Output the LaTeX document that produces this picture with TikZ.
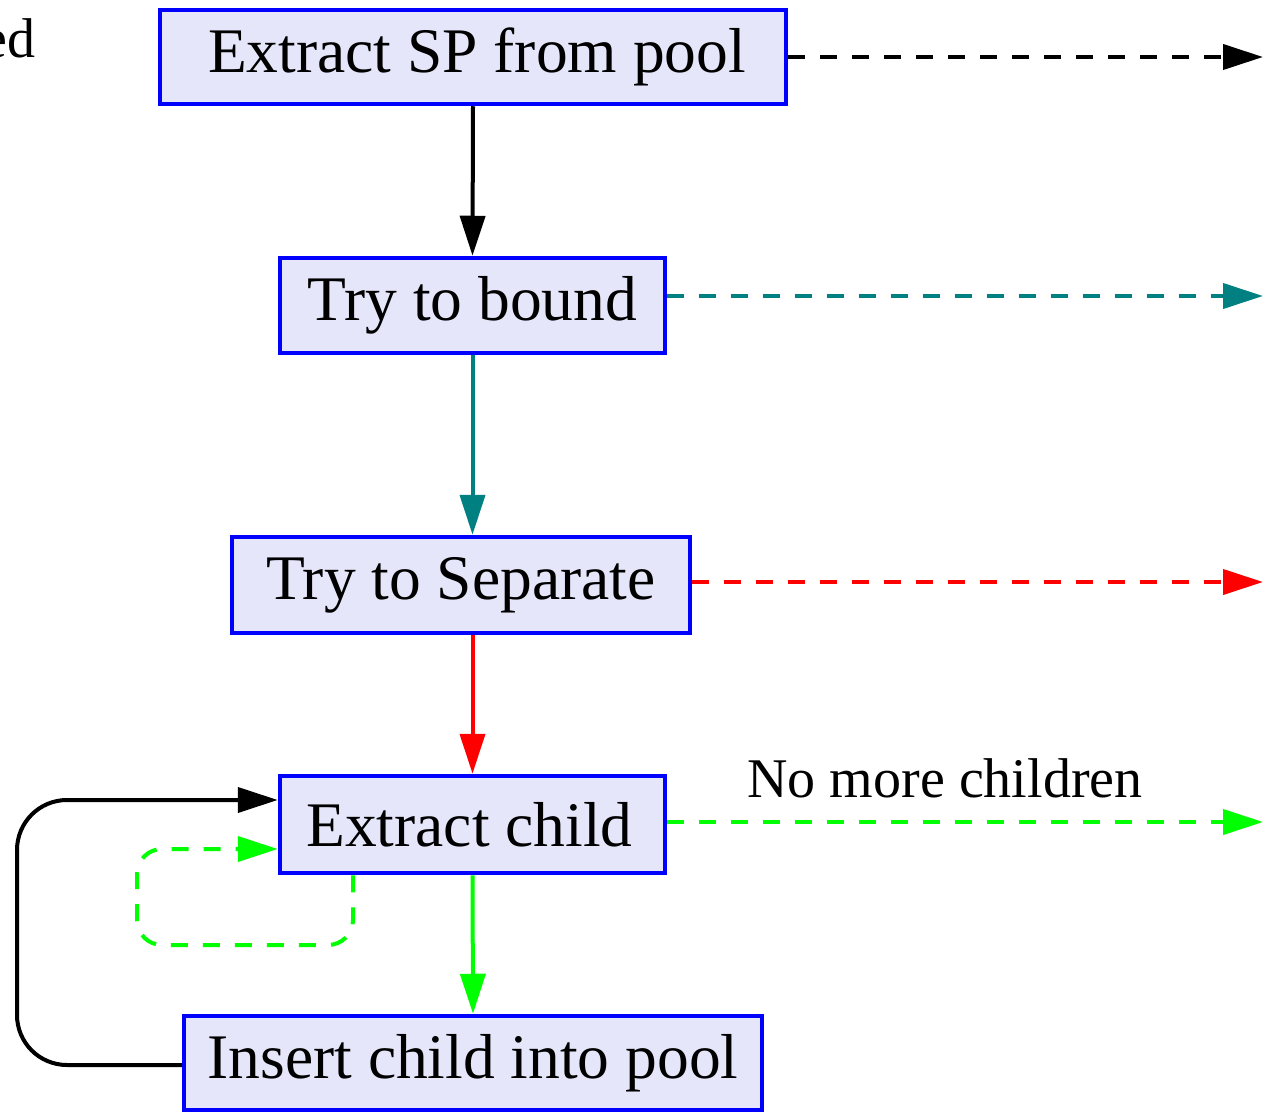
\documentclass[tikz,border=0pt]{standalone}
\usepackage{fontspec}
\setmainfont{Liberation Serif}
\usetikzlibrary{arrows.meta,calc}
\definecolor{boxfill}{RGB}{230,230,250}
\definecolor{tealc}{RGB}{0,128,128}
\definecolor{greenc}{RGB}{0,255,0}
\tikzset{
  stepbox/.style={draw=blue, fill=boxfill, line width=4.5pt, inner sep=0pt,
    font=\fontsize{63.5}{70}\selectfont},
  conn/.style={line width=4pt, -{Triangle[length=40pt,width=25pt]}},
  dsh/.style={conn, dash pattern=on 17pt off 15pt},
  lbl/.style={font=\fontsize{56}{62}\selectfont, inner sep=0pt}
}
\begin{document}
\begin{tikzpicture}[x=1pt,y=-1pt]
\useasboundingbox (0,0) rectangle (1264,1113);
\node[stepbox, minimum width=626pt, minimum height=94pt] (b1) at (473,57) {\hspace*{8pt}Extract SP from pool};
\node[stepbox, minimum width=385pt, minimum height=95pt] (b2) at (472.5,305.5) {Try to bound};
\node[stepbox, minimum width=458pt, minimum height=96pt] (b3) at (461,585) {Try to Separate};
\node[stepbox, minimum width=385pt, minimum height=97pt] (b4) at (472.5,824.5) {Extract child\hspace*{6pt}};
\node[stepbox, minimum width=578pt, minimum height=94pt] (b5) at (473,1063) {Insert child into pool};

\node[lbl, anchor=base east] (ed) at (36,58) {ed};
\node[lbl] (nmc) at (945,778) {No more children};

\coordinate (e1) at (1263,57);
\coordinate (e2) at (1263,296);
\coordinate (e3) at (1263,582);
\coordinate (e4) at (1263,822);

\draw[conn, black] (b1.south) -- (b2.north);
\draw[conn, tealc] (b2.south) -- (b2.south |- b3.north);
\draw[conn, red] (b2.south |- b3.south) -- (b4.north);
\draw[conn, greenc] (b4.south) -- (b5.north);

\draw[dsh, black] (b1.east |- e1) -- (e1);
\draw[dsh, tealc] (b2.east |- e2) -- (e2);
\draw[dsh, red] (b3.east |- e3) -- (e3);
\draw[dsh, greenc] (b4.east |- e4) -- (e4);

\draw[conn, black, rounded corners=50pt] (b5.west |- 0,1065) -- (17,1065) -- (17,800) -- (b4.west |- 0,800);
\draw[dsh, greenc, rounded corners=25pt] ($(b4.south)+(-119.5,0)$) -- (353,945) -- (137,945) -- (137,849) -- (b4.west |- 0,849);
\end{tikzpicture}
\end{document}
